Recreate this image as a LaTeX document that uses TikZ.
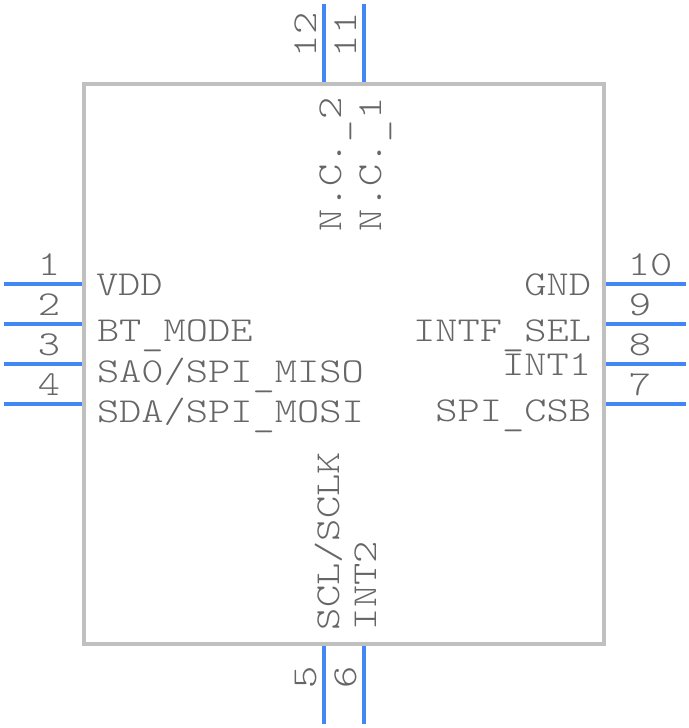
\documentclass[tikz,border=0pt]{standalone}
\usepackage{fontspec}
\setmonofont[FakeStretch=1.21]{Latin Modern Mono Light}
\usepackage{xcolor}
\usetikzlibrary{arrows}
\definecolor{pinblue}{HTML}{4287F5}
\definecolor{bodygray}{HTML}{C0C0C0}
\definecolor{labelgray}{HTML}{666666}
\newcommand{\lowbar}{\raisebox{-4.5pt}{\_}}

\begin{document}
\begin{tikzpicture}[x=1pt,y=-1pt,font=\ttfamily\fontsize{35}{35}\selectfont,text=labelgray]
    \tikzstyle{pin}=[pinblue, line width=4pt, shorten >=2pt]
    \tikzstyle{lbl}=[inner sep=0pt, outer sep=0pt, anchor=base west]
    \tikzstyle{lblr}=[inner sep=0pt, outer sep=0pt, anchor=base east]
    \tikzstyle{num}=[inner sep=0pt, outer sep=0pt, anchor=base]
    \tikzstyle{vlbl}=[lbl, rotate=90]
    \tikzstyle{vnum}=[num, rotate=90]
    \useasboundingbox (0,0) rectangle (688,728);
    \node [draw=none, minimum width=520pt, minimum height=560pt, inner sep=0pt, outer sep=0pt] (body) at (344,364) {};
    % pins
    \coordinate (p1) at (4,284);
    \coordinate (p2) at (4,324);
    \coordinate (p3) at (4,364);
    \coordinate (p4) at (4,404);
    \coordinate (p5) at (324,724);
    \coordinate (p6) at (364,724);
    \coordinate (p7) at (686,404);
    \coordinate (p8) at (686,364);
    \coordinate (p9) at (686,324);
    \coordinate (p10) at (686,284);
    \coordinate (p11) at (364,4);
    \coordinate (p12) at (324,4);
    \foreach \n in {1,2,3,4}
        \draw [pin] (p\n) -- (p\n -| body.west);
    \foreach \n in {7,8,9,10}
        \draw [pin] (p\n) -- (p\n -| body.east);
    \foreach \n in {5,6}
        \draw [pin] (p\n) -- (p\n |- body.south);
    \foreach \n in {11,12}
        \draw [pin] (p\n) -- (p\n |- body.north);
    \draw [bodygray, line width=4pt] (body.north west) rectangle (body.south east);
    % pin numbers
    \node [num] (n1) at (49,275) {1};
    \node [num] (n2) at (49,315) {2};
    \node [num] (n3) at (49,355) {3};
    \node [num] (n4) at (49,395) {4};
    \node [vnum] (n5) at (316,677) {5};
    \node [vnum] (n6) at (356,677) {6};
    \node [num] (n7) at (640,395) {7};
    \node [num] (n8) at (640,355) {8};
    \node [num] (n9) at (640,315) {9};
    \node [num] (n10) at (650,275) {10};
    \node [vlbl] (n11) at (356,57) {11};
    \node [vlbl] (n12) at (316,57) {12};
    % signal names
    \node [lbl] (vdd) at (96,295) {VDD};
    \node [lbl] (btmode) at (97,341) {BT\lowbar MODE};
    \node [lbl] (miso) at (97,382) {SA0/SPI\lowbar MISO};
    \node [lbl] (mosi) at (97,422) {SDA/SPI\lowbar MOSI};
    \node [lblr] (gnd) at (591,295) {GND};
    \node [lblr] (intfsel) at (591,341) {INTF\lowbar SEL};
    \node [lblr] (intone) at (591,375) {INT1};
    \node [lblr] (csb) at (591,421) {SPI\lowbar CSB};
    \node [vlbl] (nc2) at (341,231) {N.C.\lowbar 2};
    \node [vlbl] (nc1) at (381,231) {N.C.\lowbar 1};
    \node [vlbl] (sclk) at (339,630) {SCL/SCLK};
    \node [vlbl] (inttwo) at (376,630) {INT2};
\end{tikzpicture}
\end{document}
